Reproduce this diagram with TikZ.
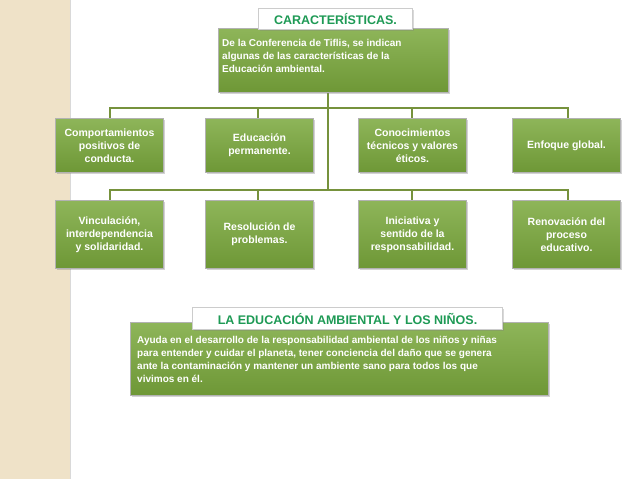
\documentclass[tikz,border=0pt]{standalone}
\usepackage{fontspec}
\setmainfont{Liberation Sans}
\usetikzlibrary{shadows}
\definecolor{gfill}{HTML}{7AA83C}
\definecolor{gline}{HTML}{76923C}
\definecolor{ttl}{HTML}{1E9A55}
\definecolor{stripe}{HTML}{EFE2C8}
\tikzset{
 gbox/.style={draw=gray!60,line width=1pt,top color=gfill!85!white,bottom color=gfill!90!black,text=white,font=\bfseries\fontsize{10.5}{13}\selectfont,align=center,inner sep=2pt,drop shadow={opacity=0.35,shadow xshift=1.5pt,shadow yshift=-1.5pt}},
 tab/.style={draw=gray!40,line width=1pt,fill=white,text=ttl,font=\bfseries\fontsize{12.5}{14}\selectfont,drop shadow={opacity=0.3,shadow xshift=1pt,shadow yshift=-1pt}},
 conn/.style={gline,line width=2.5pt}
}
\begin{document}
\begin{tikzpicture}[x=1pt,y=-1pt]
\useasboundingbox (0,0) rectangle (638,479);
\fill[stripe] (0,0) rectangle (70,479);
\draw[gray!30] (70,0)--(70,479);
\coordinate (c0) at (328,92);
\coordinate (b2) at (328,190);
\draw[conn] (c0)--(b2);
\draw[conn] (110,108)--(568,108);
\draw[conn] (110,190)--(568,190);
\foreach \x in {110,258,412,568}{\draw[conn] (\x,107)--(\x,120); \draw[conn] (\x,189)--(\x,202);}
\node[gbox,minimum width=230pt,minimum height=64pt,anchor=north west] (top) at (218,28) {};
\node[anchor=north west,text=white,font=\bfseries\fontsize{10}{13}\selectfont,align=left,inner sep=0pt] (toptxt) at (222,39) {De la Conferencia de Tiflis, se indican\\algunas de las características de la\\Educación ambiental.};
\node[tab,minimum width=154pt,minimum height=21pt,anchor=north west] (t1) at (258,8) {CARACTERÍSTICAS.};
\foreach \n/\x/\t in {r1/55/{Comportamientos\\positivos de\\conducta.},r2/205/{Educación\\permanente.},r3/358/{Conocimientos\\técnicos y valores\\éticos.},r4/512/{Enfoque global.}}{
 \node[gbox,minimum width=108pt,minimum height=54pt,anchor=north west] (\n) at (\x,118) {\t};}
\foreach \n/\x/\t in {s1/55/{Vinculación,\\interdependencia\\y solidaridad.},s2/205/{Resolución de\\problemas.},s3/358/{Iniciativa y\\sentido de la\\responsabilidad.},s4/512/{Renovación del\\proceso\\educativo.}}{
 \node[gbox,minimum width=108pt,minimum height=68pt,anchor=north west] (\n) at (\x,200) {\t};}
\node[gbox,minimum width=418pt,minimum height=73pt,anchor=north west] (bot) at (130,322) {};
\node[anchor=north west,text=white,font=\bfseries\fontsize{10}{13}\selectfont,align=left,inner sep=0pt] (bottxt) at (137,336) {Ayuda en el desarrollo de la responsabilidad ambiental de los niños y niñas\\para entender y cuidar el planeta, tener conciencia del daño que se genera\\ante la contaminación y mantener un ambiente sano para todos los que\\vivimos en él.};
\node[tab,minimum width=310pt,minimum height=22pt,anchor=north west] (t2) at (192,307) {LA EDUCACIÓN AMBIENTAL Y LOS NIÑOS.};
\end{tikzpicture}
\end{document}
